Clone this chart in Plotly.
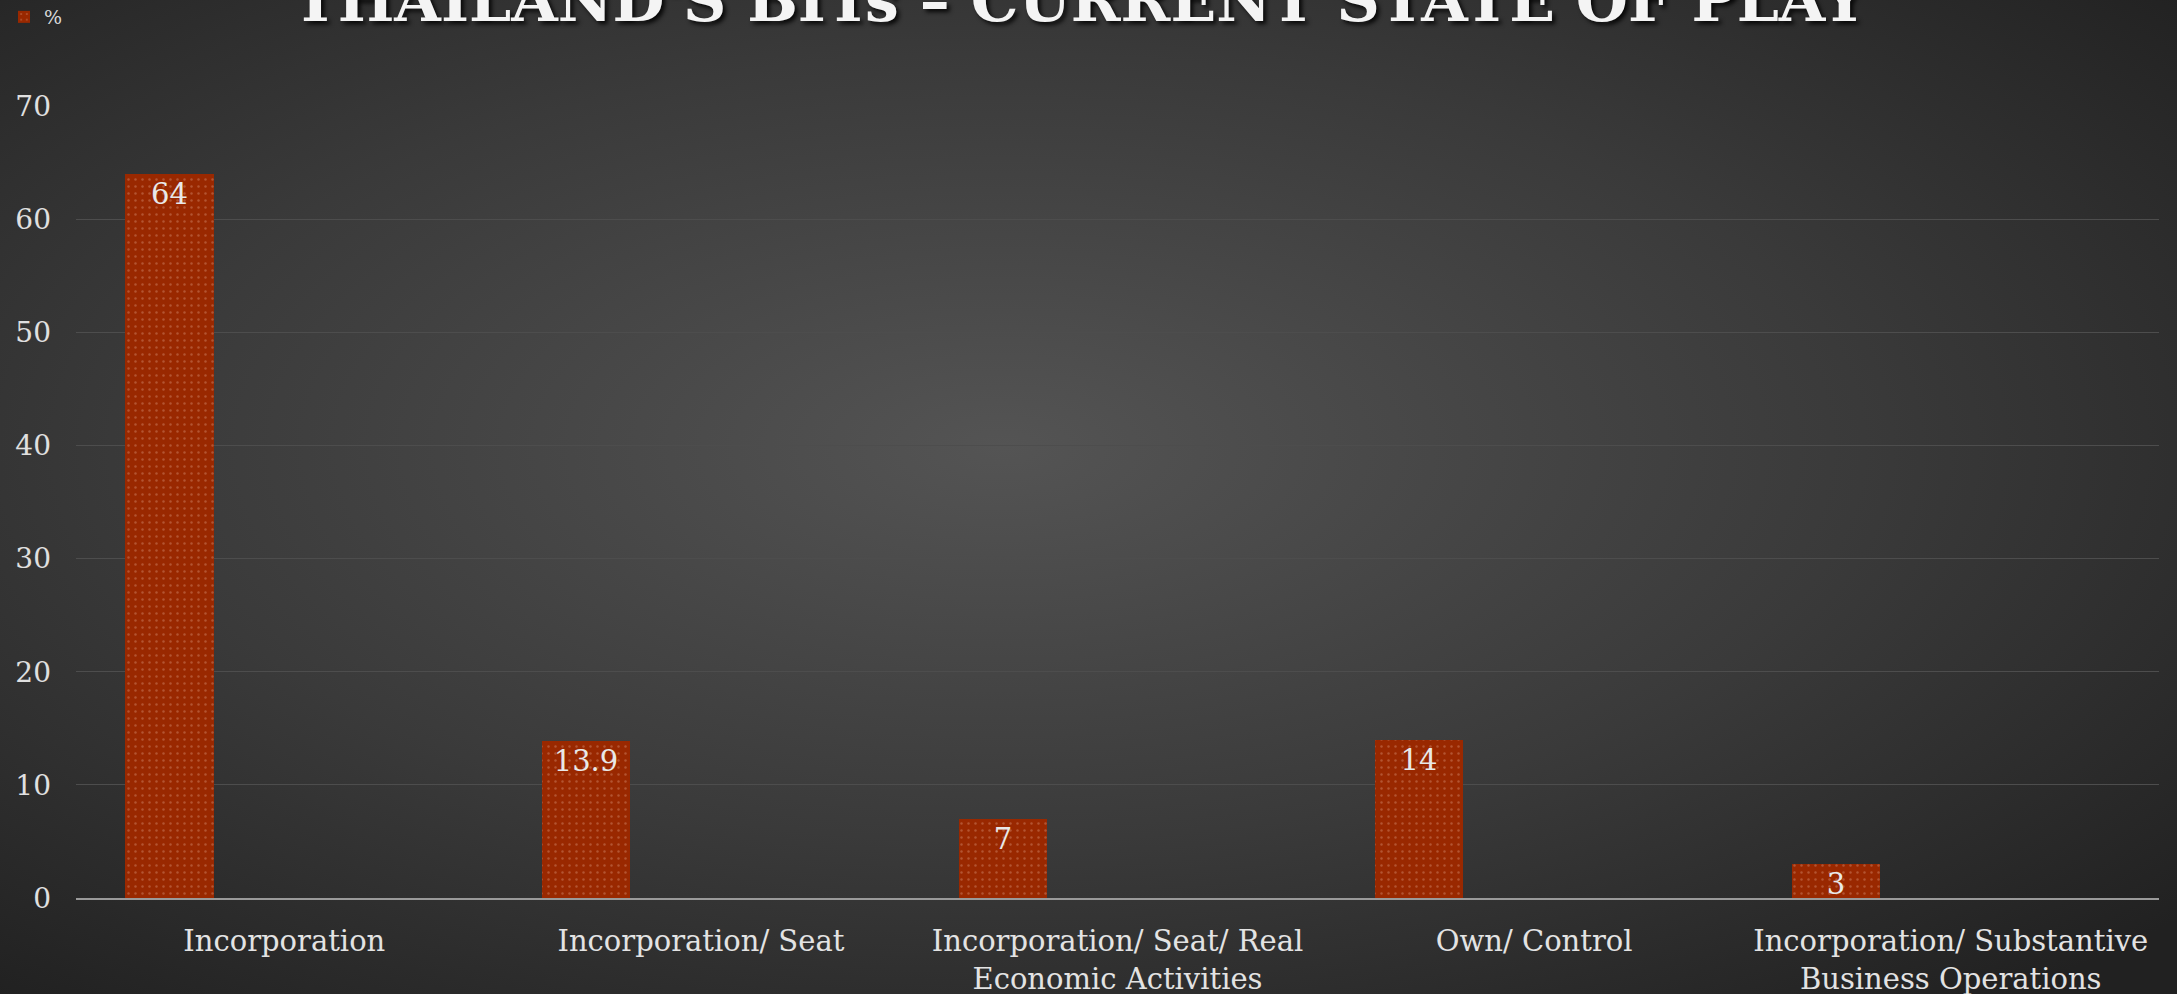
import plotly.graph_objects as go
import urllib.parse

categories = [
    "Incorporation",
    "Incorporation/ Seat",
    "Incorporation/ Seat/ Real<br>Economic Activities",
    "Own/ Control",
    "Incorporation/ Substantive<br>Business Operations",
]
values = [64, 13.9, 7, 14, 3]
value_labels = ["64", "13.9", "7", "14", "3"]
series_name = "%"
title_text = "THAILAND'S BITs – CURRENT STATE OF PLAY"
y_ticks = [0, 10, 20, 30, 40, 50, 60, 70]

FONT = "DejaVu Serif"
W, H = 2177, 994
L, R, T, B = 76, 18, 106, 96
PW, PH = W - L - R, H - T - B

svg = (
    '<svg xmlns="http://www.w3.org/2000/svg" width="2177" height="994" viewBox="0 0 2177 994" preserveAspectRatio="none">'
    '<defs><radialGradient id="g" cx="0.46" cy="0.45" r="0.72">'
    '<stop offset="0" stop-color="#545454"/>'
    '<stop offset="0.55" stop-color="#3a3a3a"/>'
    '<stop offset="1" stop-color="#212121"/>'
    '</radialGradient></defs>'
    '<rect width="2177" height="994" fill="url(#g)"/></svg>'
)
bg_src = "data:image/svg+xml;charset=utf-8," + urllib.parse.quote(svg)

fig = go.Figure()
fig.add_trace(go.Bar(
    x=categories,
    y=values,
    name=series_name,
    text=value_labels,
    textposition="inside",
    insidetextanchor="end",
    constraintext="none",
    textangle=0,
    textfont=dict(family=FONT, size=29, color="#e8e8e8"),
    marker=dict(color="#992800", line=dict(width=0),
                pattern=dict(shape=".", fgcolor="rgba(255,215,195,0.5)",
                             size=7, solidity=0.1, fillmode="overlay")),
    offset=-0.3815,
    width=0.212,
    showlegend=True,
))

fig.update_layout(
    width=W, height=H,
    margin=dict(l=L, r=R, t=T, b=B, autoexpand=False),
    paper_bgcolor="#2b2b2b",
    plot_bgcolor="rgba(0,0,0,0)",
    images=[dict(source=bg_src, xref="paper", yref="paper",
                 x=-L / PW, y=1 + T / PH, sizex=W / PW, sizey=H / PH,
                 xanchor="left", yanchor="top", sizing="stretch", layer="below")],
    showlegend=True,
    legend=dict(xref="container", yref="container",
                x=4 / W, y=1 - 17 / H, xanchor="left", yanchor="middle",
                font=dict(family=FONT, size=19, color="#d9d9d9"),
                bgcolor="rgba(0,0,0,0)", itemwidth=30),
    bargap=0,
    annotations=[dict(
        text="<b>" + title_text + "</b>", xref="paper", yref="paper",
        x=(1079 - L) / PW, y=1 + (T - 37) / PH, xanchor="center", yanchor="bottom",
        showarrow=False,
        font=dict(family=FONT, size=60, color="#f4f4f4",
                  shadow="3px 3px 4px rgba(0,0,0,0.85)"),
    )],
)

fig.update_xaxes(
    type="category",
    automargin=False,
    tickfont=dict(family=FONT, size=29, color="#e3e3e3"),
    showline=True, linecolor="#9a9a9a", linewidth=2,
    showgrid=False, ticks="",
    ticklabelstandoff=16,
)
fig.update_yaxes(
    range=[0, 70],
    automargin=False,
    tickvals=y_ticks,
    tickfont=dict(family=FONT, size=28, color="#e0e0e0"),
    showgrid=True, gridcolor="#4d4d4d", gridwidth=1,
    zeroline=False, showline=False, ticks="",
    ticklabelstandoff=24,
)

fig.write_html(
    "out.html",
    config={"displayModeBar": False},
    post_script="document.body.style.margin='0';document.body.style.overflow='hidden';",
)
